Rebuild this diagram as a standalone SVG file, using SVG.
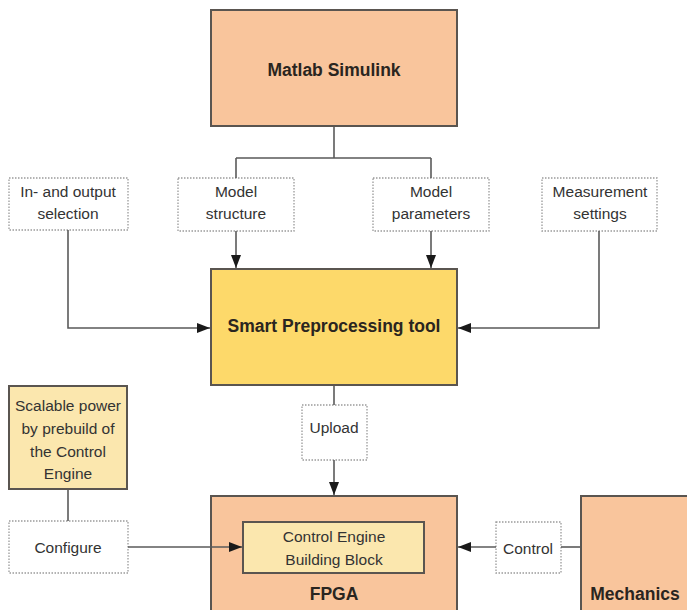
<svg xmlns="http://www.w3.org/2000/svg" width="687" height="610" viewBox="0 0 687 610">
<style>
.solid{stroke:#5a5550;stroke-width:2}
.peach{fill:#f9c59c}
.yellow{fill:#fdd96a}
.light{fill:#fbe7ae}
.dot{fill:#fff;stroke:#9a9a9a;stroke-width:1.3;stroke-dasharray:1.5 1.5}
.t{font-family:"Liberation Sans",Arial,sans-serif;font-size:15.5px;fill:#333;text-anchor:middle}
.b{font-family:"Liberation Sans",Arial,sans-serif;font-size:17.5px;font-weight:bold;fill:#2a2520;text-anchor:middle}
.ln{fill:none;stroke:#5a5a5a;stroke-width:1.6}
</style>
<defs>
<marker id="ah" markerUnits="userSpaceOnUse" markerWidth="14" markerHeight="11" refX="13" refY="5" orient="auto">
<path d="M0,0 L13,5 L0,10 z" fill="#1a1a1a"/>
</marker>
</defs>
<rect width="687" height="610" fill="#fff"/>
<g id="matlab">
<rect class="peach solid" x="211" y="10" width="246" height="116"/>
<text class="b" x="334" y="76">Matlab Simulink</text>
</g>
<g id="inout">
<rect class="dot" x="9" y="178" width="119" height="52"/>
<text class="t" x="68" y="197">In- and output</text>
<text class="t" x="68" y="219">selection</text>
</g>
<g id="structure">
<rect class="dot" x="178" y="178" width="116" height="53"/>
<text class="t" x="236" y="197">Model</text>
<text class="t" x="236" y="219">structure</text>
</g>
<g id="parameters">
<rect class="dot" x="373" y="178" width="116" height="53"/>
<text class="t" x="431" y="197">Model</text>
<text class="t" x="431" y="219">parameters</text>
</g>
<g id="measurement">
<rect class="dot" x="542" y="178" width="115" height="53"/>
<text class="t" x="600" y="197">Measurement</text>
<text class="t" x="600" y="219">settings</text>
</g>
<g id="smart">
<rect class="yellow solid" x="211" y="269" width="246" height="116"/>
<text class="b" x="334" y="332">Smart Preprocessing tool</text>
</g>
<g id="upload">
<rect class="dot" x="302" y="405" width="65" height="55"/>
<text class="t" x="334" y="433">Upload</text>
</g>
<g id="scalable">
<rect class="light solid" x="9" y="386" width="118" height="103"/>
<text class="t" x="68" y="411">Scalable power</text>
<text class="t" x="68" y="434">by prebuild of</text>
<text class="t" x="68" y="457">the Control</text>
<text class="t" x="68" y="479">Engine</text>
</g>
<g id="configure">
<rect class="dot" x="9" y="521" width="119" height="52"/>
<text class="t" x="68" y="553">Configure</text>
</g>
<g id="fpga">
<rect class="peach solid" x="211" y="496" width="246" height="124"/>
<text class="b" x="334" y="600">FPGA</text>
</g>
<g id="block">
<rect class="light solid" x="243" y="522" width="181" height="51"/>
<text class="t" x="334" y="542">Control Engine</text>
<text class="t" x="334" y="565">Building Block</text>
</g>
<g id="control">
<rect class="dot" x="496" y="522" width="65" height="51"/>
<text class="t" x="528" y="554">Control</text>
</g>
<g id="mechanics">
<rect class="peach solid" x="581" y="496" width="120" height="124"/>
<text class="b" x="635" y="600">Mechanics</text>
</g>
<g id="connectors">
<path class="ln" d="M334,127 V158 M236,158 H431 M236,158 V178 M431,158 V178"/>
<path class="ln" d="M236,231 V268" marker-end="url(#ah)"/>
<path class="ln" d="M431,231 V268" marker-end="url(#ah)"/>
<path class="ln" d="M68,230 V328 H210" marker-end="url(#ah)"/>
<path class="ln" d="M599,231 V328 H458" marker-end="url(#ah)"/>
<path class="ln" d="M334,386 V405"/>
<path class="ln" d="M334,460 V495" marker-end="url(#ah)"/>
<path class="ln" d="M68,490 V521"/>
<path class="ln" d="M128,547 H242" marker-end="url(#ah)"/>
<path class="ln" d="M580,547 H561"/>
<path class="ln" d="M496,547 H458" marker-end="url(#ah)"/>
</g>
</svg>
